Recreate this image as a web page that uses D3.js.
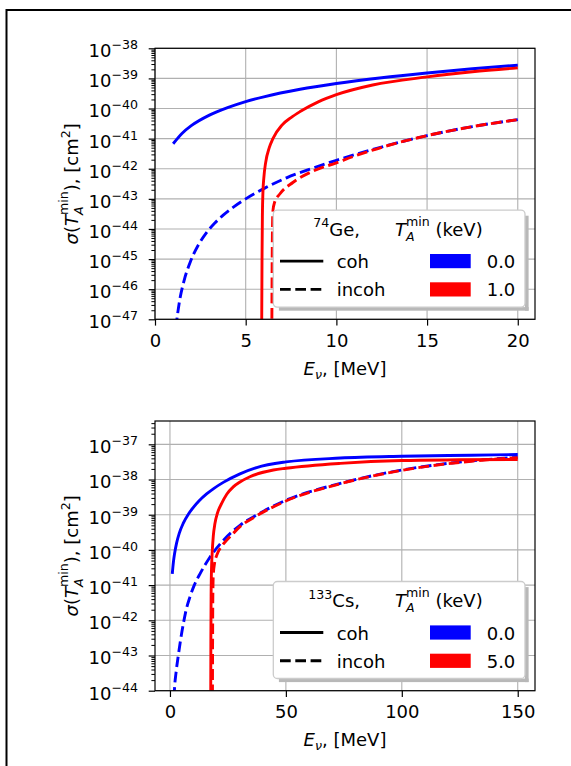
<!DOCTYPE html>
<html><head><meta charset="utf-8">
<script src="https://cdn.jsdelivr.net/npm/d3@7"></script>
<style>
body{margin:0;background:#fff;}
svg{display:block;font-family:"DejaVu Sans",sans-serif;background:#fff;}
</style>
</head><body>
<svg id="chart" width="571" height="766"></svg>
<script>
// ---------- DATA : [E_nu (MeV), sigma (cm^2)] ----------
// 74Ge, T_A^min = 0.0 keV and 1.0 keV
const geCohT0 = [[1,6.76e-42],[1.5,1.51e-41],[2,2.69e-41],[3,6.03e-41],[4,1.07e-40],[5,1.70e-40],[6,2.45e-40],[8,4.37e-40],[10,6.76e-40],[12.5,1.05e-39],[15,1.51e-39],[17.5,2.09e-39],[20,2.75e-39]];
const geIncohT0 = [[1.14,5.0e-48],[1.38,5.0e-47],[1.6,1.9e-46],[1.93,7.6e-46],[2.4,3.0e-45],[2.84,7.6e-45],[3.3,1.58e-44],[3.76,2.88e-44],[4.4,5.75e-44],[5,1.0e-43],[6,2.19e-43],[7.25,5.0e-43],[8.7,1.05e-42],[10,1.91e-42],[12,4.37e-42],[15,1.26e-41],[17.5,2.51e-41],[20,4.27e-41]];
const geCohT1 = [[5.88,3.2e-48],[5.9,1e-45],[5.92,2.5e-44],[5.95,1.6e-43],[6.0,5.0e-43],[6.1,1.6e-42],[6.3,5.0e-42],[6.5,1.0e-41],[7.0,2.82e-41],[7.5,5.0e-41],[8,7.9e-41],[9,1.66e-40],[10,2.88e-40],[12,6.03e-40],[15,1.12e-39],[17.5,1.66e-39],[20,2.24e-39]];
const geIncohT1 = [[6.44,3.2e-48],[6.46,1e-45],[6.5,4.0e-44],[6.6,7.9e-44],[6.88,1.45e-43],[7.6,3.5e-43],[8.7,8.3e-43],[10,1.58e-42],[11,2.63e-42],[12,4.17e-42],[15,1.26e-41],[17.5,2.51e-41],[20,4.27e-41]];
// 133Cs, T_A^min = 0.0 keV and 5.0 keV
const csCohT0 = [[1,2.09e-41],[1.5,4.57e-41],[2,7.9e-41],[2.88,1.58e-40],[4,2.95e-40],[5.76,5.75e-40],[8,1.05e-39],[10.1,1.62e-39],[12.5,2.45e-39],[15.8,3.89e-39],[19,5.62e-39],[23,8.3e-39],[30.2,1.45e-38],[37.4,2.19e-38],[50,3.16e-38],[73.5,4.07e-38],[100,4.57e-38],[130,4.9e-38],[150,5.13e-38]];
const csIncohT0 = [[1.75,6.3e-45],[2.0,1.26e-44],[2.6,3.16e-44],[3.6,1.0e-43],[4.6,2.82e-43],[5.76,7.9e-43],[7,2.0e-42],[8.6,4.57e-42],[10.5,1.0e-41],[12.95,2.09e-41],[17.3,6.3e-41],[23,1.86e-40],[30.2,5.0e-40],[37.4,9.8e-40],[50,2.57e-39],[73.5,7.76e-39],[100,1.86e-38],[130,3.39e-38],[150,4.27e-38]];
const csCohT5 = [[17.55,1e-45],[17.65,3.16e-43],[17.75,5.0e-42],[17.9,2.5e-41],[18.2,7.9e-41],[18.7,2.5e-40],[19.4,5.6e-40],[20.5,1.12e-39],[22.3,2.09e-39],[24.5,3.8e-39],[27.3,6.17e-39],[30.2,8.5e-39],[34.5,1.2e-38],[44.6,1.86e-38],[50,2.09e-38],[73.5,2.88e-38],[100,3.47e-38],[125,3.63e-38],[150,3.72e-38]];
const csIncohT5 = [[18.3,1e-45],[18.4,3.16e-43],[18.5,5.0e-42],[18.7,2.0e-41],[19.2,4.0e-41],[20.2,7.1e-41],[22,1.2e-40],[24.5,1.9e-40],[27,2.82e-40],[30.2,4.57e-40],[37.4,9.3e-40],[50,2.45e-39],[73.5,7.6e-39],[100,1.82e-38],[130,3.31e-38],[150,4.17e-38]];

// ticks and limits
const geXTicks = [0,5,10,15,20];
const geYTicks = [1e-47,1e-46,1e-45,1e-44,1e-43,1e-42,1e-41,1e-40,1e-39,1e-38];
const geXLim = [0,20.95];
const geYLim = [1e-47,1e-38];
const csXTicks = [0,50,100,150];
const csYTicks = [1e-44,1e-43,1e-42,1e-41,1e-40,1e-39,1e-38,1e-37];
const csXLim = [-6.45,157.45];
const csYLim = [1e-44,4.6e-37];

// legend texts
const legendLineLabels = ["coh","incoh"];
const geTLabels = ["0.0","1.0"];
const csTLabels = ["0.0","5.0"];
const seriesColors = ["#0000ff","#ff0000"];

// ---------- DRAWING ----------
const svg = d3.select("#chart");
const defs = svg.append("defs");
const FS = 18, SFS = 12.6, LW = 2.9, DASH = "10.7,4.6";
const L = 155, R = 535;

svg.append("path").attr("d","M6.5,766 L6.5,10 L571,10")
  .attr("fill","none").attr("stroke","#000").attr("stroke-width",2);

const panels = [
  {top:48.3, bottom:319.3, xLim:geXLim, yLim:geYLim, xTicks:geXTicks, yTicks:geYTicks,
   nucMass:"74", nucName:"Ge,", tLabels:geTLabels,
   series:[{d:geCohT0,c:0,dash:false},{d:geIncohT0,c:0,dash:true},{d:geCohT1,c:1,dash:false},{d:geIncohT1,c:1,dash:true}]},
  {top:421, bottom:690.7, xLim:csXLim, yLim:csYLim, xTicks:csXTicks, yTicks:csYTicks,
   nucMass:"133", nucName:"Cs,", tLabels:csTLabels,
   series:[{d:csCohT0,c:0,dash:false},{d:csIncohT0,c:0,dash:true},{d:csCohT5,c:1,dash:false},{d:csIncohT5,c:1,dash:true}]}
];

const legendLayer = [];

panels.forEach((p, idx) => {
  const x = d3.scaleLinear().domain(p.xLim).range([L, R]);
  const y = d3.scaleLog().domain(p.yLim).range([p.bottom, p.top]);
  const g = svg.append("g");
  const clipId = "clip" + idx;
  defs.append("clipPath").attr("id", clipId).append("rect")
    .attr("x", L).attr("y", p.top).attr("width", R - L).attr("height", p.bottom - p.top);

  // grid
  g.append("g").selectAll("line").data(p.xTicks).join("line")
    .attr("x1", d => x(d)).attr("x2", d => x(d)).attr("y1", p.top).attr("y2", p.bottom)
    .attr("stroke", "#b0b0b0").attr("stroke-width", 1.1);
  g.append("g").selectAll("line").data(p.yTicks).join("line")
    .attr("x1", L).attr("x2", R).attr("y1", d => y(d)).attr("y2", d => y(d))
    .attr("stroke", "#b0b0b0").attr("stroke-width", 1.1);

  // curves
  const line = d3.line().x(d => x(d[0])).y(d => y(d[1])).curve(d3.curveMonotoneX);
  const cg = g.append("g").attr("clip-path", `url(#${clipId})`);
  p.series.forEach(s => {
    cg.append("path").attr("d", line(s.d)).attr("fill", "none")
      .attr("stroke", seriesColors[s.c]).attr("stroke-width", LW)
      .attr("stroke-dasharray", s.dash ? DASH : null);
  });

  // frame
  g.append("rect").attr("x", L).attr("y", p.top).attr("width", R - L).attr("height", p.bottom - p.top)
    .attr("fill", "none").attr("stroke", "#000").attr("stroke-width", 1.2);

  // x axis
  const xa = g.append("g").attr("transform", `translate(0,${p.bottom})`)
    .call(d3.axisBottom(x).tickValues(p.xTicks).tickSize(6.3).tickSizeOuter(0).tickPadding(8.4).tickFormat(d3.format("d")));
  xa.select(".domain").remove();
  xa.attr("font-family", null).attr("font-size", FS);
  xa.selectAll("line").attr("stroke", "#000").attr("stroke-width", 1.2);
  xa.selectAll("text").attr("fill", "#000");

  // y minor ticks
  const lo = Math.floor(Math.log10(p.yLim[0])), hi = Math.ceil(Math.log10(p.yLim[1]));
  const minor = [];
  for (let k = lo; k < hi; k++) for (let m = 2; m <= 9; m++) {
    const v = m * Math.pow(10, k);
    if (v >= p.yLim[0] && v <= p.yLim[1]) minor.push(v);
  }
  const ym = g.append("g").attr("transform", `translate(${L},0)`)
    .call(d3.axisLeft(y).tickValues(minor).tickSize(3.6).tickSizeOuter(0).tickFormat(""));
  ym.select(".domain").remove();
  ym.selectAll("line").attr("stroke", "#000").attr("stroke-width", 1);

  // y major ticks
  const ya = g.append("g").attr("transform", `translate(${L},0)`)
    .call(d3.axisLeft(y).tickValues(p.yTicks).tickSize(6.3).tickSizeOuter(0).tickFormat(""));
  ya.select(".domain").remove();
  ya.attr("font-family", null).attr("font-size", FS);
  ya.selectAll("line").attr("stroke", "#000").attr("stroke-width", 1.2);
  ya.selectAll(".tick text").each(function(d) {
    const t = d3.select(this);
    const e = Math.round(Math.log10(d));
    t.text(null).attr("x", -17).attr("y", 8.4).attr("dy", null).attr("fill", "#000").attr("text-anchor", "end");
    t.append("tspan").text("10");
    t.append("tspan").attr("font-size", SFS).attr("dy", -8).text((e < 0 ? "\u2212" : "") + Math.abs(e));
  });

  // x label
  const xl = svg.append("text").attr("x", (L + R) / 2).attr("y", p.bottom + 55.5)
    .attr("text-anchor", "middle").attr("font-size", FS).attr("fill", "#000");
  xl.append("tspan").attr("font-style", "italic").text("E");
  xl.append("tspan").attr("font-style", "italic").attr("font-size", SFS).attr("dy", 4).text("\u03bd");
  xl.append("tspan").attr("dy", -4).text(", [MeV]");

  // y label
  const cy = (p.top + p.bottom) / 2;
  const yl = svg.append("text").attr("transform", `translate(77.7,${cy}) rotate(-90)`)
    .attr("text-anchor", "middle").attr("font-size", FS).attr("fill", "#000");
  yl.append("tspan").attr("font-style", "italic").text("\u03c3");
  yl.append("tspan").text("(");
  yl.append("tspan").attr("font-style", "italic").text("T");
  yl.append("tspan").attr("font-style", "italic").attr("font-size", SFS).attr("dy", 5).text("A");
  yl.append("tspan").attr("font-size", SFS).attr("dx", -8.6).attr("dy", -15).text("min");
  yl.append("tspan").attr("dy", 10).text("), [cm");
  yl.append("tspan").attr("font-size", SFS).attr("dy", -8).text("2");
  yl.append("tspan").attr("dy", 8).text("]");

  legendLayer.push(p);
});

// legends (top layer)
legendLayer.forEach(p => {
  const x0 = 273.3, w = 251.7, h = 97, y0 = p.bottom - 109.2, sh = 3.6;
  const lg = svg.append("g");
  // shadow strips (right and bottom)
  lg.append("rect").attr("x", x0 + w).attr("y", y0 + sh + 2).attr("width", sh).attr("height", h - 2)
    .style("fill", "#b8b8b8");
  lg.append("rect").attr("x", x0 + sh + 2).attr("y", y0 + h).attr("width", w - 2).attr("height", sh)
    .style("fill", "#b8b8b8");
  lg.append("rect").attr("x", x0).attr("y", y0).attr("width", w).attr("height", h)
    .attr("rx", 4).style("fill", "#ffffff").style("fill-opacity", 1)
    .style("stroke", "#cccccc").style("stroke-width", 1.3);
  const t1 = lg.append("text").attr("x", x0 + 86.7).attr("y", y0 + 25.5).attr("text-anchor", "end")
    .attr("font-size", FS).attr("fill", "#000");
  t1.append("tspan").attr("font-size", SFS).attr("dy", -8.3).text(p.nucMass);
  t1.append("tspan").attr("dy", 8.3).text(p.nucName);
  const t2 = lg.append("text").attr("x", x0 + 121.7).attr("y", y0 + 25.5)
    .attr("font-size", FS).attr("fill", "#000");
  t2.append("tspan").attr("font-style", "italic").text("T");
  t2.append("tspan").attr("font-style", "italic").attr("font-size", SFS).attr("dy", 5).text("A");
  t2.append("tspan").attr("font-size", SFS).attr("dx", -8.6).attr("dy", -15).text("min");
  t2.append("tspan").attr("dy", 10).text(" (keV)");

  const rows = [y0 + 51, y0 + 79.3];
  rows.forEach((ry, i) => {
    lg.append("line").attr("x1", x0 + 6.7).attr("x2", x0 + 50).attr("y1", ry).attr("y2", ry)
      .attr("stroke", "#000").attr("stroke-width", LW)
      .attr("stroke-dasharray", i === 1 ? DASH : null);
    lg.append("text").attr("x", x0 + 63.4).attr("y", ry + 7).attr("font-size", FS).attr("fill", "#000")
      .text(legendLineLabels[i]);
    lg.append("rect").attr("x", x0 + 156.7).attr("y", ry - 7.1).attr("width", 40.7).attr("height", 14.2)
      .attr("fill", seriesColors[i]);
    lg.append("text").attr("x", x0 + 213.4).attr("y", ry + 7).attr("font-size", FS).attr("fill", "#000")
      .text(p.tLabels[i]);
  });
});
</script>
</body></html>
